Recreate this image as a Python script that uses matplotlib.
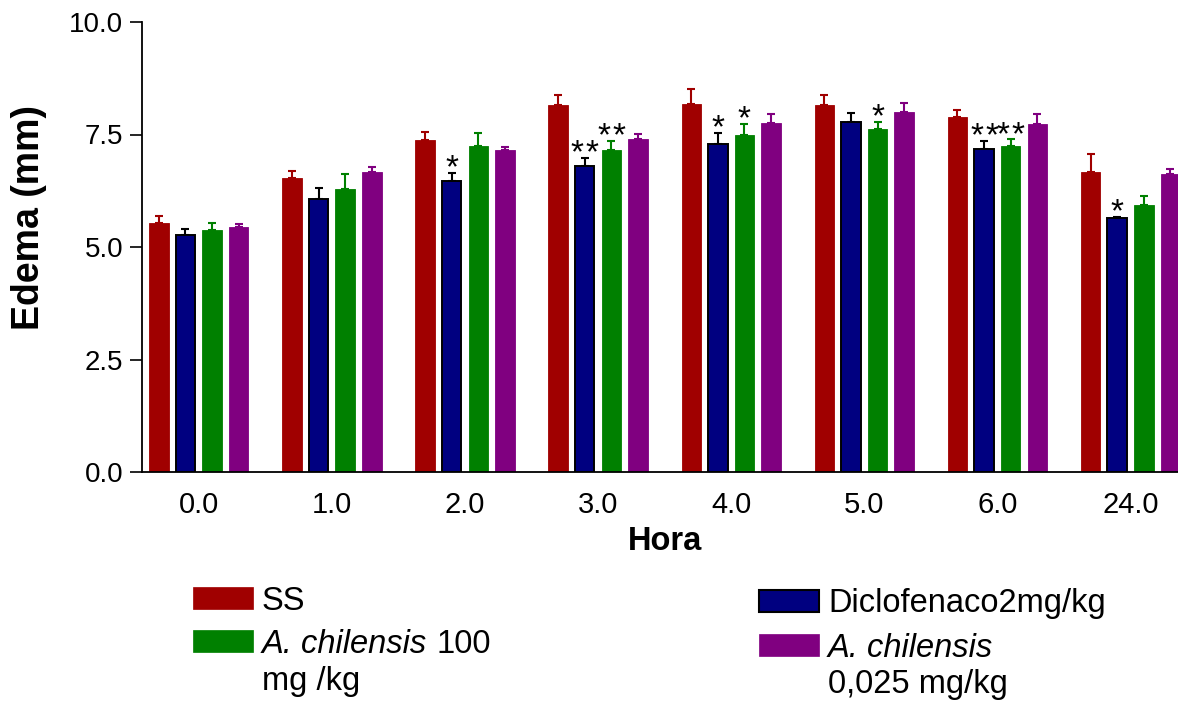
import numpy as np
import matplotlib
matplotlib.use('Agg')
import matplotlib.pyplot as plt
from matplotlib.patches import Rectangle

plt.rcParams['font.family'] = ['Liberation Sans', 'DejaVu Sans']

hours = ['0.0', '1.0', '2.0', '3.0', '4.0', '5.0', '6.0', '24.0']

# edema means (mm) and SEM for every group
ss_mean = [5.53, 6.54, 7.37, 8.16, 8.17, 8.15, 7.88, 6.67]
ss_sem = [0.16, 0.16, 0.19, 0.22, 0.35, 0.23, 0.17, 0.39]
dic_mean = [5.26, 6.07, 6.47, 6.81, 7.30, 7.78, 7.18, 5.64]
dic_sem = [0.15, 0.25, 0.18, 0.17, 0.23, 0.20, 0.18, 0.03]
ach100_mean = [5.37, 6.30, 7.24, 7.15, 7.50, 7.63, 7.24, 5.93]
ach100_sem = [0.17, 0.33, 0.29, 0.21, 0.23, 0.14, 0.15, 0.20]
ach0025_mean = [5.44, 6.67, 7.15, 7.39, 7.75, 7.99, 7.73, 6.63]
ach0025_sem = [0.07, 0.11, 0.08, 0.12, 0.20, 0.21, 0.23, 0.10]

# number of asterisks (significance vs SS)
ss_sig = [0, 0, 0, 0, 0, 0, 0, 0]
dic_sig = [0, 0, 1, 2, 1, 0, 2, 1]
ach100_sig = [0, 0, 0, 2, 1, 1, 2, 0]
ach0025_sig = [0, 0, 0, 0, 0, 0, 0, 0]

series = [
    (ss_mean, ss_sem, ss_sig, '#a00000', '#a00000'),
    (dic_mean, dic_sem, dic_sig, '#000080', 'black'),
    (ach100_mean, ach100_sem, ach100_sig, '#008000', '#008000'),
    (ach0025_mean, ach0025_sem, ach0025_sig, '#800080', '#800080'),
]

W, H = 1178, 708
fig = plt.figure(figsize=(W / 100, H / 100), dpi=100)
ax = fig.add_axes([141.7 / W, 1 - 472 / H, 1 - 141.7 / W, 450 / H])

x = np.arange(len(hours))
offsets = [-0.3, -0.1, 0.1, 0.3]
width = 0.146

for (mean, sem, sig, color, edge), off in zip(series, offsets):
    xs = x + off
    ax.bar(xs, mean, width, color=color, edgecolor=edge,
           linewidth=1.4 if edge == 'black' else 0.6, zorder=2)
    ax.errorbar(xs, mean, yerr=[np.zeros(len(sem)), sem], fmt='none',
                ecolor=edge, elinewidth=1.5, capsize=3, capthick=1.5, zorder=1)
    for xi, m, s, n in zip(xs, mean, sem, sig):
        # stars drawn one by one so a pair keeps its spacing
        for k in range(n):
            dx = (k - (n - 1) / 2) * 10.8
            ax.annotate('*', (xi, m + s), xytext=(dx, 3), textcoords='offset points',
                        ha='center', va='center', fontsize=24)

ax.set_xlim(-0.4286, 7.357)
ax.set_ylim(0, 10)
ax.set_yticks([0, 2.5, 5.0, 7.5, 10.0])
ax.set_yticklabels(['0.0', '2.5', '5.0', '7.5', '10.0'])
ax.set_xticks(x)
ax.set_xticklabels(hours)
ax.tick_params(axis='y', length=8.4, width=1.2, pad=4.8, labelsize=20)
ax.tick_params(axis='x', length=0, pad=14, labelsize=21)
for side in ['top', 'right']:
    ax.spines[side].set_visible(False)
for side in ['left', 'bottom']:
    ax.spines[side].set_linewidth(1.3)

ax.set_xlabel('Hora', fontsize=23.5, fontweight='bold')
ax.xaxis.set_label_coords(0.505, -0.12)
ax.set_ylabel('Edema (mm)', fontsize=27, fontweight='bold')
ax.yaxis.set_label_coords(-0.0915, 0.5656)

# legend, laid out in pixel coordinates
def px(xp, yp):
    return xp / W, 1 - yp / H

renderer = fig.canvas.get_renderer()
legend_rows = [
    (192.6, 587, '#a00000', '#a00000', [('', 'SS')], 262, [610]),
    (192.6, 630, '#008000', '#008000', [('A. chilensis', '100'), ('', 'mg /kg')], 262, [653, 690]),
    (759, 590, '#000080', 'black', [('', 'Diclofenaco2mg/kg')], 828, [612]),
    (759, 634, '#800080', '#800080', [('A. chilensis', ''), ('', '0,025 mg/kg')], 828, [657, 693]),
]
fs = 23.5
for xp, yp, color, edge, lines, xt, baselines in legend_rows:
    x0, y0 = px(xp, yp + 22)
    fig.add_artist(Rectangle((x0, y0), 60 / W, 22 / H, transform=fig.transFigure,
                             facecolor=color, edgecolor=edge,
                             linewidth=1.5 if edge == 'black' else 0.5))
    for (ital, plain), b in zip(lines, baselines):
        xcur = xt
        if ital:
            t = fig.text(*px(xcur, b), ital, fontsize=fs, style='italic',
                         ha='left', va='baseline')
            xcur = t.get_window_extent(renderer).x1 + fs * 100 / 72 * 0.278
        if plain:
            fig.text(*px(xcur, b), plain, fontsize=fs, ha='left', va='baseline')

fig.savefig('out.png', dpi=100)
